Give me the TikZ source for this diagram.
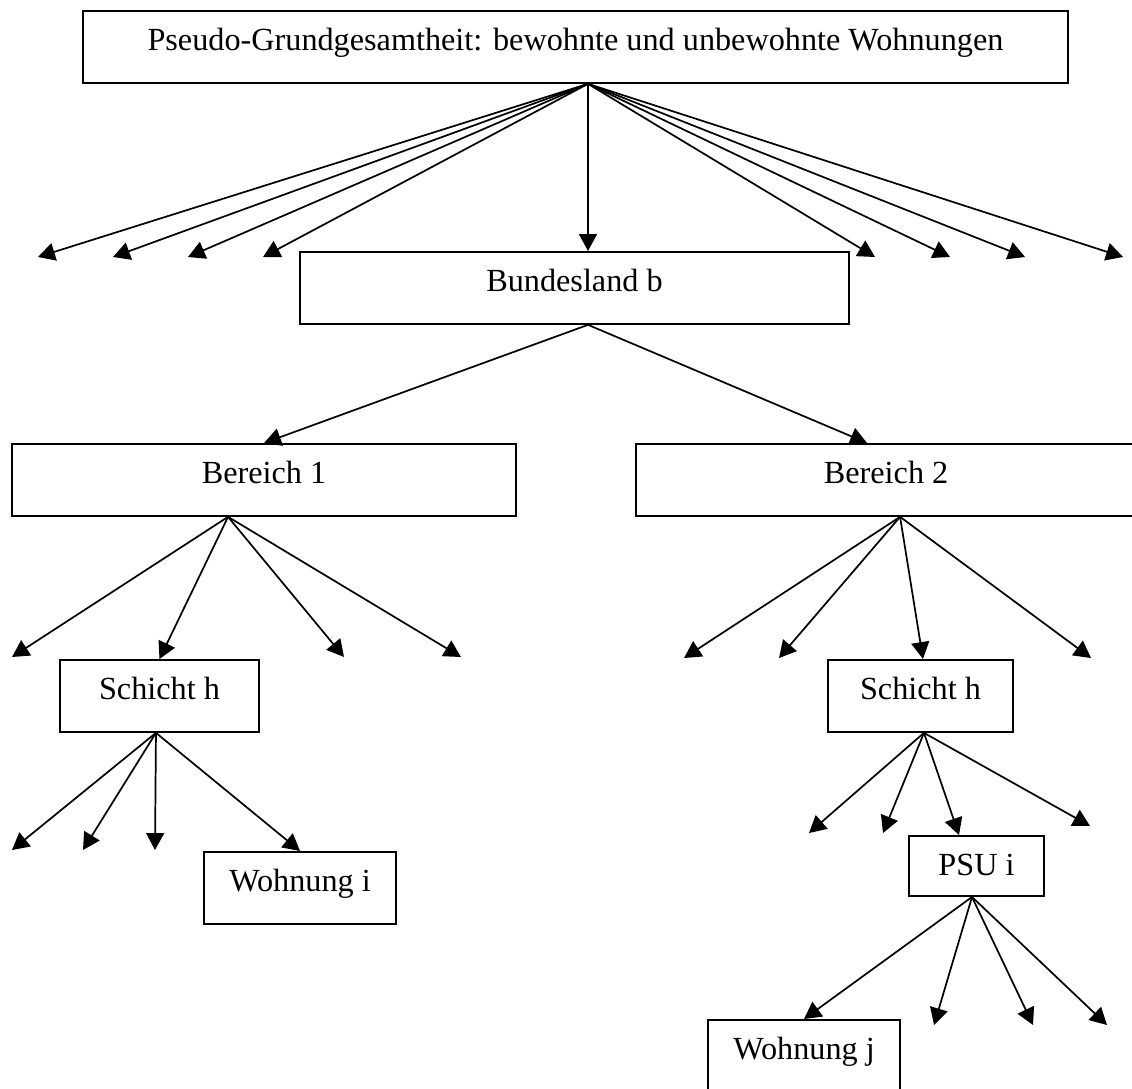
\documentclass[tikz,border=0pt]{standalone}
\usepackage{fontspec}
\setmainfont{Liberation Serif}
\usetikzlibrary{arrows.meta,calc}
\tikzset{
	box/.style={draw, line width=0.75pt, rectangle, anchor=north west, inner xsep=0pt, inner ysep=0pt, text height=15.1pt, text depth=12.1pt, font=\fontsize{12.2pt}{14pt}\selectfont},
	arr/.style={line width=0.65pt, -{Triangle[length=6.4pt,width=6.8pt]}}
}
\begin{document}
\begin{tikzpicture}[x=0.3785pt, y=-0.3785pt]
	\useasboundingbox (0,0) rectangle (1132,1088);
	\node[box, minimum width=372.8pt] (grund) at (82,10) {Pseudo-Grundgesamtheit: bewohnte und unbewohnte Wohnungen};
	\node[box, minimum width=207.8pt] (land) at (299,251) {Bundesland b};
	\node[box, minimum width=190.8pt] (ber1) at (11,443) {Bereich 1};
	\node[box, minimum width=189.3pt] (ber2) at (635,443) {Bereich 2};
	\node[box, minimum width=75.3pt] (sch1) at (59,659) {Schicht h};
	\node[box, minimum width=70pt] (sch2) at (827,659) {Schicht h};
	\node[box, minimum width=51.1pt, text depth=7.6pt] (psu) at (908,835) {PSU i};
	\node[box, minimum width=72.7pt] (wohn1) at (203,851) {Wohnung i};
	\node[box, minimum width=72.7pt] (wohn2) at (707,1019) {Wohnung j};

	\draw[arr] ($(grund.south)+(12.5,0)$) -- ($(land.north)+(13.5,0)$);
	\foreach \x [count=\i] in {38,113,188,263,875,950,1025,1123} {
		\coordinate (g\i) at (\x,257);
		\draw[arr] ($(grund.south)+(12.5,0)$) -- (g\i);
	}
	\draw[arr] ($(land.south)+(13.5,0)$) -- (ber1.north);
	\draw[arr] ($(land.south)+(13.5,0)$) -- ($(ber2.north)+(-19,0)$);

	\draw[arr] ($(ber1.south)+(-36,0)$) -- (sch1.north);
	\foreach \x [count=\i] in {12,344,461} {
		\coordinate (b\i) at (\x,657);
		\draw[arr] ($(ber1.south)+(-36,0)$) -- (b\i);
	}
	\draw[arr] ($(ber2.south)+(14,0)$) -- ($(sch2.north)+(2.5,0)$);
	\foreach \x [count=\i] in {684,779,1091} {
		\coordinate (c\i) at (\x,658);
		\draw[arr] ($(ber2.south)+(14,0)$) -- (c\i);
	}

	\draw[arr] ($(sch1.south)+(-3.5,0)$) -- (wohn1.north);
	\foreach \x [count=\i] in {12,83,155} {
		\coordinate (s\i) at (\x,850);
		\draw[arr] ($(sch1.south)+(-3.5,0)$) -- (s\i);
	}
	\draw[arr] ($(sch2.south)+(3.5,0)$) -- ($(psu.north)+(-17.5,0)$);
	\foreach \x/\y [count=\i] in {809/833,883/833,1090/826} {
		\coordinate (t\i) at (\x,\y);
		\draw[arr] ($(sch2.south)+(3.5,0)$) -- (t\i);
	}

	\draw[arr] ($(psu.south)+(-4.5,0)$) -- (wohn2.north);
	\foreach \x [count=\i] in {934,1033,1107} {
		\coordinate (p\i) at (\x,1025);
		\draw[arr] ($(psu.south)+(-4.5,0)$) -- (p\i);
	}
\end{tikzpicture}
\end{document}
